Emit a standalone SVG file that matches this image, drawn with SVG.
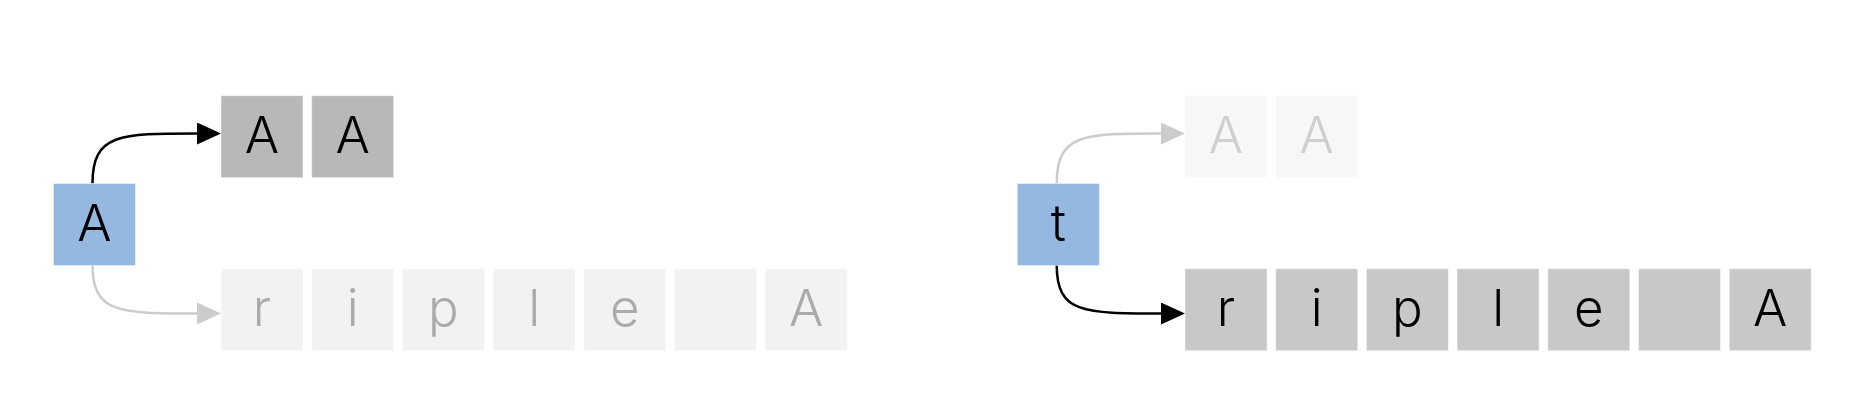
<svg xmlns="http://www.w3.org/2000/svg" width="1870" height="402" viewBox="0 0 1870 402">
<defs>
<style>
.box{stroke:#ffffff;stroke-opacity:0.45;stroke-width:1}
.blue{fill:#94b8e0}
.dark{fill:#b8b8b8}
.mid{fill:#c8c8c8}
.light{fill:#f2f2f2}
.lighter{fill:#f7f7f7}
text{font-family:Inter,"Liberation Sans",sans-serif;font-size:51px;font-weight:350;text-anchor:middle}
.t-on{fill:#000000}
.t-off{fill:#aaaaaa}
.t-off2{fill:#cfcfcf}
.link{fill:none;stroke-width:2.5}
.on{stroke:#000000}
.off{stroke:#cccccc}
</style>
<marker id="ah-on" markerUnits="userSpaceOnUse" markerWidth="25" markerHeight="22" refX="0" refY="11" orient="auto" viewBox="0 0 25 22"><path d="M0,0 L24,11 L0,22 z" fill="#000000"/></marker>
<marker id="ah-off" markerUnits="userSpaceOnUse" markerWidth="25" markerHeight="22" refX="0" refY="11" orient="auto" viewBox="0 0 25 22"><path d="M0,0 L24,11 L0,22 z" fill="#cccccc"/></marker>
</defs>
<rect width="1870" height="402" fill="#ffffff"/>
<g id="connectors">
<path class="link on" d="M92.5,183.5 C92.5,133.5 120,133.5 197,133.5" marker-end="url(#ah-on)"/>
<path class="link off" d="M92.5,265 C92.5,313.5 120,313.5 197,313.5" marker-end="url(#ah-off)"/>
<path class="link off" d="M1056.7,183.5 C1056.7,133.5 1084,133.5 1161,133.5" marker-end="url(#ah-off)"/>
<path class="link on" d="M1056.7,265 C1056.7,313.5 1084,313.5 1161,313.5" marker-end="url(#ah-on)"/>
</g>
<g id="left">
<g id="node-A"><rect class="box blue" x="53.5" y="183.5" width="82" height="82"/><text class="t-on" x="94.5" y="240.5">A</text></g>
<g id="left-top">
<g id="lt0"><rect class="box dark" x="221" y="95.7" width="82" height="82"/><text class="t-on" x="262" y="152.7">A</text></g>
<g id="lt1"><rect class="box dark" x="311.7" y="95.7" width="82" height="82"/><text class="t-on" x="352.7" y="152.7">A</text></g>
</g>
<g id="left-bottom">
<g id="lb0"><rect class="box light" x="221" y="268.7" width="82" height="82"/><text class="t-off" x="262" y="325.5">r</text></g>
<g id="lb1"><rect class="box light" x="311.7" y="268.7" width="82" height="82"/><text class="t-off" x="352.7" y="325.5">i</text></g>
<g id="lb2"><rect class="box light" x="402.4" y="268.7" width="82" height="82"/><text class="t-off" x="443.4" y="325.5">p</text></g>
<g id="lb3"><rect class="box light" x="493.1" y="268.7" width="82" height="82"/><text class="t-off" x="534.1" y="325.5">l</text></g>
<g id="lb4"><rect class="box light" x="583.8" y="268.7" width="82" height="82"/><text class="t-off" x="624.8" y="325.5">e</text></g>
<g id="lb5"><rect class="box light" x="674.5" y="268.7" width="82" height="82"/></g>
<g id="lb6"><rect class="box light" x="765.2" y="268.7" width="82" height="82"/><text class="t-off" x="806.2" y="325.5">A</text></g>
</g>
</g>
<g id="right">
<g id="node-t"><rect class="box blue" x="1017.3" y="183.5" width="82" height="82"/><text class="t-on" x="1058.3" y="240.5">t</text></g>
<g id="right-top">
<g id="rt0"><rect class="box lighter" x="1185" y="95.7" width="82" height="82"/><text class="t-off2" x="1226" y="152.7">A</text></g>
<g id="rt1"><rect class="box lighter" x="1275.7" y="95.7" width="82" height="82"/><text class="t-off2" x="1316.7" y="152.7">A</text></g>
</g>
<g id="right-bottom">
<g id="rb0"><rect class="box mid" x="1185" y="268.7" width="82" height="82"/><text class="t-on" x="1226" y="325.5">r</text></g>
<g id="rb1"><rect class="box mid" x="1275.7" y="268.7" width="82" height="82"/><text class="t-on" x="1316.7" y="325.5">i</text></g>
<g id="rb2"><rect class="box mid" x="1366.4" y="268.7" width="82" height="82"/><text class="t-on" x="1407.4" y="325.5">p</text></g>
<g id="rb3"><rect class="box mid" x="1457.1" y="268.7" width="82" height="82"/><text class="t-on" x="1498.1" y="325.5">l</text></g>
<g id="rb4"><rect class="box mid" x="1547.8" y="268.7" width="82" height="82"/><text class="t-on" x="1588.8" y="325.5">e</text></g>
<g id="rb5"><rect class="box mid" x="1638.5" y="268.7" width="82" height="82"/></g>
<g id="rb6"><rect class="box mid" x="1729.2" y="268.7" width="82" height="82"/><text class="t-on" x="1770.2" y="325.5">A</text></g>
</g>
</g>
</svg>
